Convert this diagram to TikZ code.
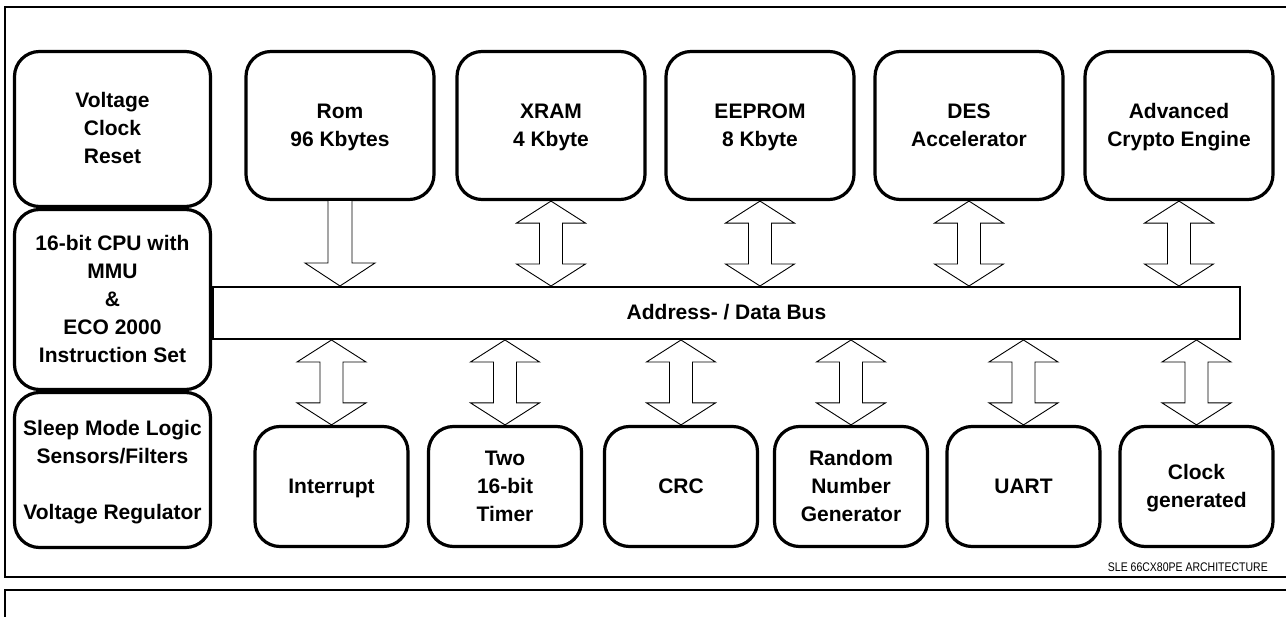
\documentclass[tikz,border=0pt]{standalone}
\usepackage{fontspec}
\setmainfont{Liberation Sans}
\usetikzlibrary{calc}
\newcommand\lnstrut{\rule[-7pt]{0pt}{28pt}}
\newcommand\tx[1]{\lnstrut#1\lnstrut}
\newcommand\fatdbl[2]{%
  \draw[fatarrow] let \p1=(#1), \p2=(#2) in
    (\x1,\y1) -- (\x1+34.5pt,\y1-22pt) -- (\x1+11.5pt,\y1-22pt) --
    (\x1+11.5pt,\y2+22pt) -- (\x1+34.5pt,\y2+22pt) -- (\x1,\y2) --
    (\x1-34.5pt,\y2+22pt) -- (\x1-11.5pt,\y2+22pt) --
    (\x1-11.5pt,\y1-22pt) -- (\x1-34.5pt,\y1-22pt) -- cycle;}
\begin{document}
\begin{tikzpicture}[x=1pt,y=-1pt,
  blk/.style={draw,line width=3.2pt,rounded corners=25pt,align=center,
    font=\fontsize{21}{28}\selectfont\bfseries,inner sep=0pt},
  topblk/.style={blk,minimum width=188pt,minimum height=148pt},
  botblk/.style={blk,minimum width=153pt,minimum height=120pt},
  leftblk/.style={blk,minimum width=196pt},
  fatarrow/.style={draw,line width=0.9pt,fill=white},
  frame/.style={draw,line width=2.3pt}]
\useasboundingbox (0,0) rectangle (1286,617);
\draw[frame] (5,7) rectangle (1300,577);
\draw[frame] (5,590) rectangle (1300,650);
% left column
\node[leftblk,minimum height=155pt] (vcr) at (112.5,129) {\tx{Voltage\\Clock\\Reset}};
\node[leftblk,minimum height=180pt] (cpu) at (112.5,299.5) {\tx{16-bit CPU with\\MMU\\\&\\ECO 2000\\Instruction Set}};
\node[leftblk,minimum height=155pt] (sleep) at (112.5,470) {\tx{Sleep Mode Logic\\Sensors/Filters\\[28pt]Voltage Regulator}};
% bus
\node[draw,line width=2pt,minimum width=1027pt,minimum height=52pt,inner sep=0pt,
  font=\fontsize{21}{28}\selectfont\bfseries] (bus) at (726.5,313) {\lnstrut Address- / Data Bus};
% top row
\node[topblk] (rom) at (340,125.5) {\tx{Rom\\96 Kbytes}};
\node[topblk] (xram) at (551,125.5) {\tx{XRAM\\4 Kbyte}};
\node[topblk] (eeprom) at (760,125.5) {\tx{EEPROM\\8 Kbyte}};
\node[topblk] (des) at (969,125.5) {\tx{DES\\Accelerator}};
\node[topblk] (ace) at (1179,125.5) {\tx{Advanced\\Crypto Engine}};
% bottom row
\node[botblk] (intr) at (331.5,486.5) {\tx{Interrupt}};
\node[botblk] (timer) at (505,486.5) {\tx{Two\\16-bit\\Timer}};
\node[botblk] (crc) at (681,486.5) {\tx{CRC}};
\node[botblk] (rng) at (851,486.5) {\tx{Random\\Number\\Generator}};
\node[botblk] (uart) at (1023.5,486.5) {\tx{UART}};
\node[botblk] (clk) at (1196.5,486.5) {\tx{Clock\\generated}};
% rom single arrow
\draw[fatarrow] let \p1=(rom.south), \p2=(rom.south |- bus.north) in
  (\x1-12pt,\y1) -- (\x1-12pt,\y2+23pt) -- (\x1-35pt,\y2+23pt) -- (\x1,\y2) --
  (\x1+35pt,\y2+23pt) -- (\x1+12pt,\y2+23pt) -- (\x1+12pt,\y1);
% top double arrows
\foreach \nm in {xram,eeprom,des,ace}{\fatdbl{\nm.south}{\nm.south |- bus.north}}
% bottom double arrows
\foreach \nm in {intr,timer,crc,rng,uart,clk}{\fatdbl{\nm.north |- bus.south}{\nm.north}}
% footer
\node[anchor=base east,inner sep=0pt,font=\fontsize{12.5}{14}\selectfont] (lbl) at (1268,572)
  {\scalebox{0.84}[1]{SLE 66CX80PE ARCHITECTURE}};
\end{tikzpicture}
\end{document}
